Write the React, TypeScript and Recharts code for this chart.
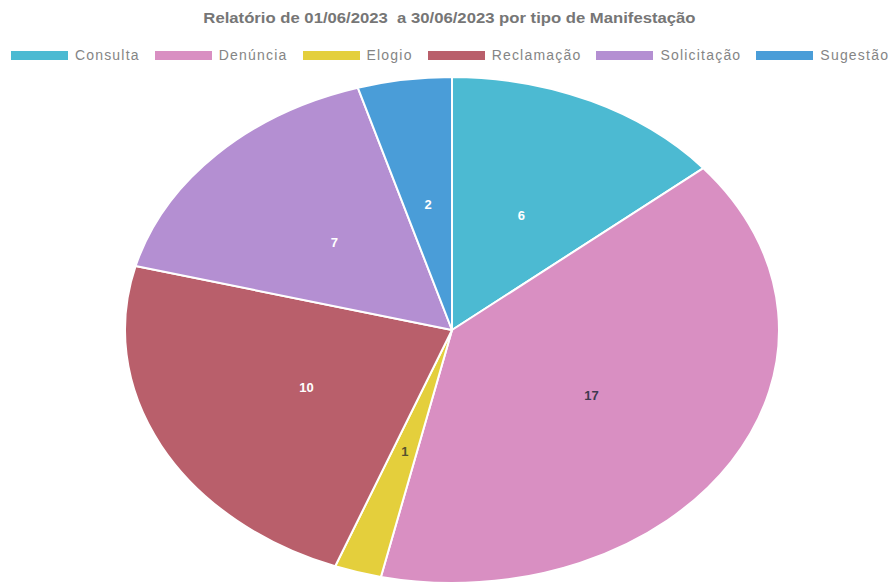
import React from 'react';
import { PieChart, Pie, Cell, Legend } from 'recharts';

const categories = ['Consulta', 'Denúncia', 'Elogio', 'Reclamação', 'Solicitação', 'Sugestão'];
const values = [6, 17, 1, 10, 7, 2];
const colors = ['#4cbad2', '#d98fc2', '#e4cf3c', '#b95f6b', '#b48fd2', '#4a9dd8'];
const labelColors = ['#ffffff', '#3f3a4f', '#55532f', '#ffffff', '#ffffff', '#ffffff'];
const title = 'Relatório de 01/06/2023\u00a0 a 30/06/2023 por tipo de Manifestação';

const data = categories.map((name, i) => ({ name, value: values[i] }));

const RX_RATIO = 327 / 253;
const RAD = Math.PI / 180;
const FONT = '"Liberation Sans", Arial, Helvetica, sans-serif';

function EllipseSector(props: any) {
  const { cx, cy, outerRadius, startAngle, endAngle, fill } = props;
  const ry = outerRadius;
  const rx = outerRadius * RX_RATIO;
  const pt = (a: number) => [cx + rx * Math.cos(-a * RAD), cy + ry * Math.sin(-a * RAD)];
  const [x1, y1] = pt(startAngle);
  const [x2, y2] = pt(endAngle);
  const delta = startAngle - endAngle;
  const large = Math.abs(delta) > 180 ? 1 : 0;
  const sweep = delta > 0 ? 1 : 0;
  const d = `M ${cx} ${cy} L ${x1} ${y1} A ${rx} ${ry} 0 ${large} ${sweep} ${x2} ${y2} Z`;
  return <path d={d} fill={fill} stroke="#ffffff" strokeWidth={2} strokeLinejoin="round" />;
}

const renderLabel = (p: any) => {
  const { cx, cy, midAngle, outerRadius, index, value } = p;
  const r = outerRadius * 0.5;
  const x = cx + r * RX_RATIO * Math.cos(-midAngle * RAD);
  const y = cy + r * Math.sin(-midAngle * RAD);
  return (
    <text
      x={x}
      y={y}
      fill={labelColors[index]}
      textAnchor="middle"
      dominantBaseline="central"
      fontSize={13}
      fontWeight="bold"
      fontFamily={FONT}
    >
      {value}
    </text>
  );
};

const LegendContent = () => (
  <div style={{ width: 892, height: 70, fontFamily: FONT }}>
    <div
      style={{
        height: 36,
        lineHeight: '36px',
        textAlign: 'center',
        fontSize: 14.5,
        fontWeight: 'bold',
        color: '#767676',
        transform: 'scaleX(1.15)',
        transformOrigin: '423px 50%',
      }}
    >
      {title}
    </div>
    <div
      style={{
        display: 'flex',
        justifyContent: 'center',
        alignItems: 'center',
        height: 20,
        marginTop: 9,
        paddingLeft: 8,
        gap: 15,
      }}
    >
      {categories.map((c, i) => (
        <div key={c} style={{ display: 'flex', alignItems: 'center' }}>
          <div style={{ width: 57, height: 9, background: colors[i], marginRight: 7 }} />
          <span style={{ fontSize: 14, color: '#858585', letterSpacing: 1.2 }}>{c}</span>
        </div>
      ))}
    </div>
  </div>
);

export default function App() {
  return (
    <div style={{ position: 'absolute', left: 0, top: 0, width: 892, height: 585, background: '#fff' }}>
      <PieChart width={892} height={585} margin={{ top: 0, right: 0, bottom: 0, left: 0 }}>
        <Legend
          verticalAlign="top"
          align="center"
          content={<LegendContent />}
          wrapperStyle={{ top: 0, left: 0, width: 892, height: 70 }}
        />
        <Pie
          data={data}
          dataKey="value"
          nameKey="name"
          cx={452}
          cy={260}
          outerRadius={253}
          startAngle={90}
          endAngle={-270}
          stroke="#ffffff"
          strokeWidth={2}
          shape={EllipseSector}
          label={renderLabel}
          labelLine={false}
          isAnimationActive={false}
        >
          {data.map((d, i) => (
            <Cell key={d.name} fill={colors[i]} />
          ))}
        </Pie>
      </PieChart>
    </div>
  );
}
